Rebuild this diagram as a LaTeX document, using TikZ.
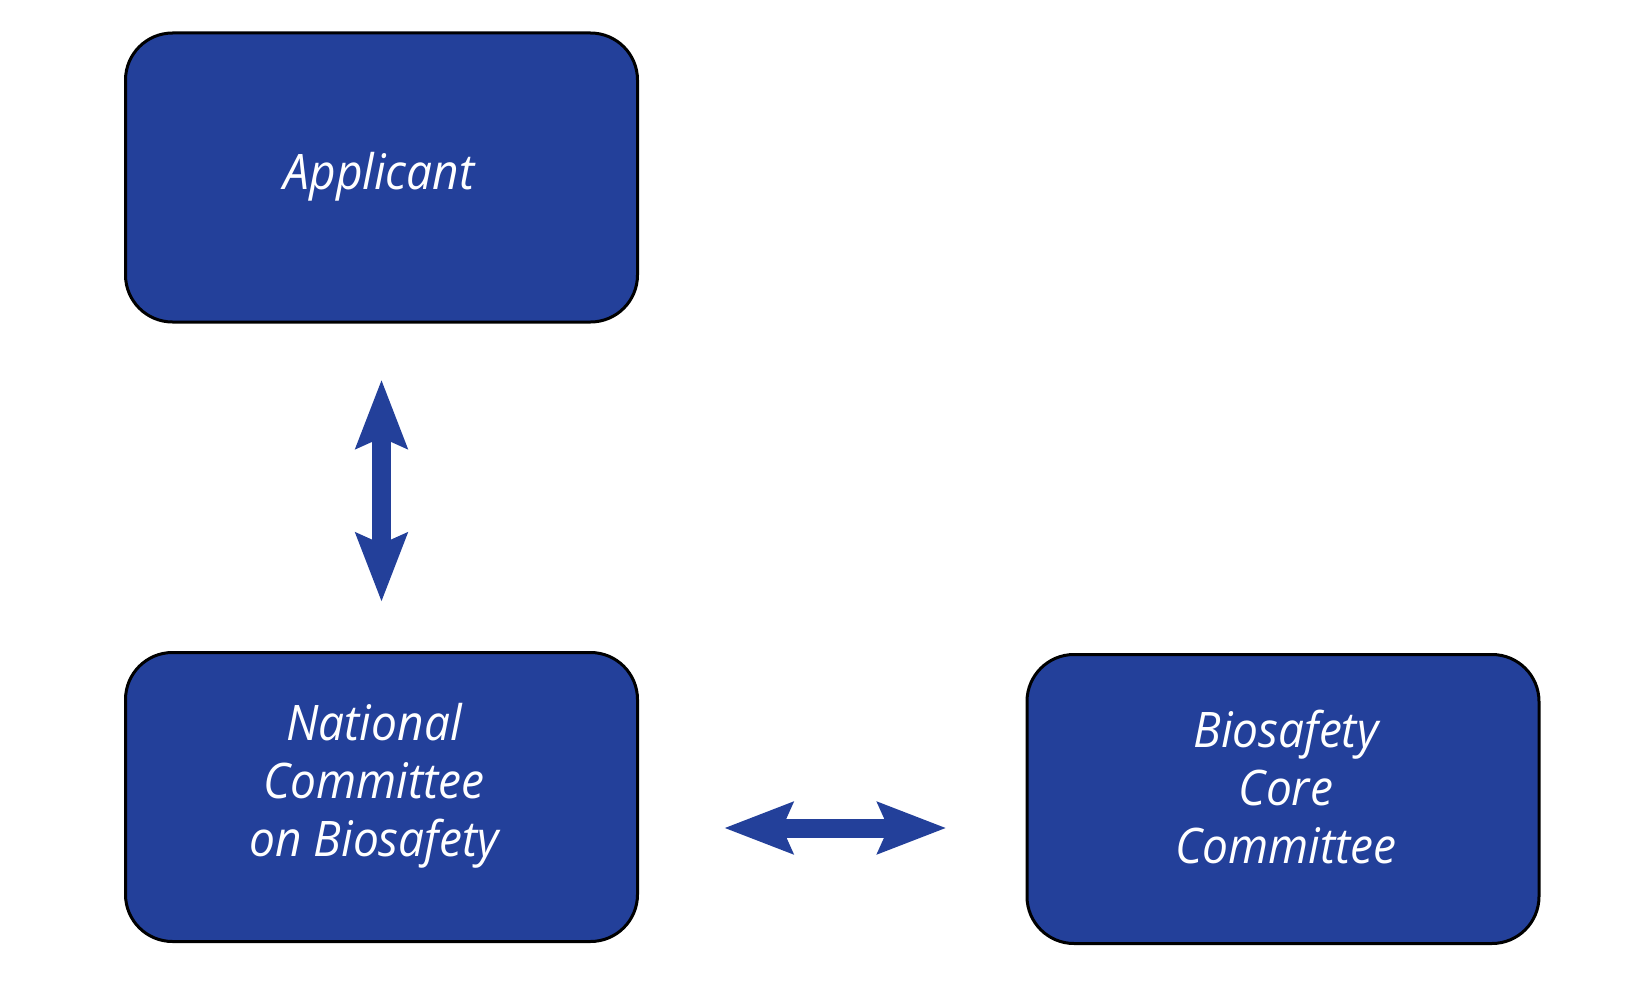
\documentclass[tikz,border=0pt]{standalone}
\usepackage{fontspec}
\setmainfont[FakeStretch=0.94]{Open Sans}
\usetikzlibrary{arrows.meta}
\definecolor{boxblue}{HTML}{23409A}
\tikzset{
  box/.style={draw=black, line width=3pt, fill=boxblue, rounded corners=47pt,
    minimum width=512pt, minimum height=289pt, inner sep=0pt},
  lbl/.style={text=white, align=center, font=\fontsize{49}{58}\selectfont\itshape},
  dblarrow/.style={draw=boxblue, line width=19pt,
    {Stealth[length=68pt,width=50pt,inset=10pt]}-{Stealth[length=68pt,width=50pt,inset=10pt]}}
}
\begin{document}
\begin{tikzpicture}[x=1pt,y=-1pt]
\useasboundingbox (0,0) rectangle (1650,990);
\node[box] (app) at (381.5,177.5) {};
\node[box] (ncb) at (381.5,797) {};
\node[box] (bcc) at (1283,799) {};
\node[lbl] (appt) at (379,177) {Applicant};
\node[lbl] (ncbt) at (374,786) {National\\Committee\\on Biosafety};
\node[lbl] (bcct) at (1286,787) {Biosafety\\Core\\Committee};
\draw[dblarrow, shorten <=56pt, shorten >=49pt] (app.south) -- (ncb.north);
\coordinate (h1) at ([yshift=-31pt]ncb.east);
\draw[dblarrow, shorten <=85pt, shorten >=79pt] (h1) -- (h1 -| bcc.west);
\end{tikzpicture}
\end{document}
